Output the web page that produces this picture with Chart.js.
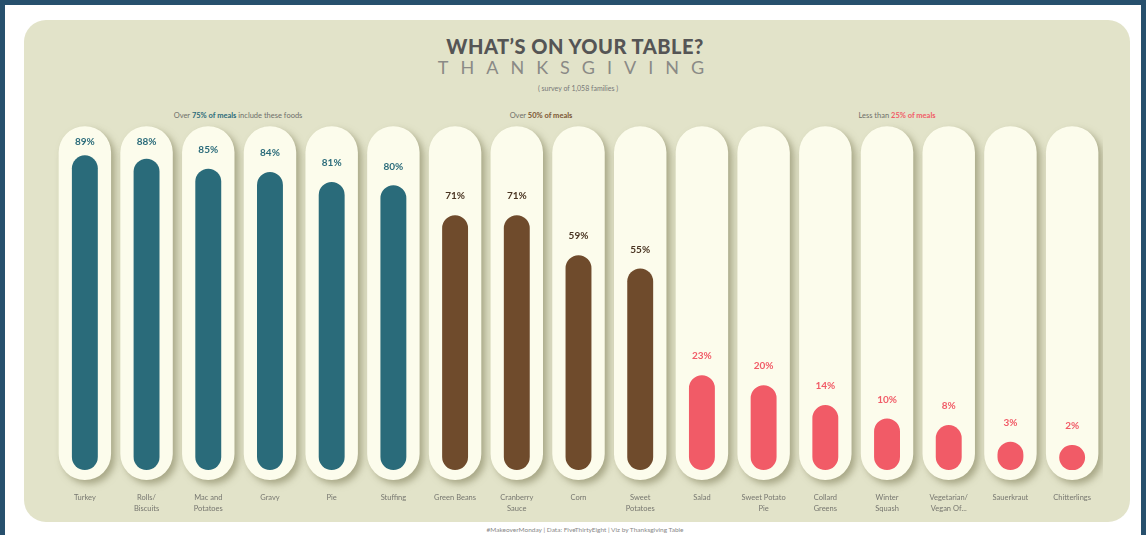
<!DOCTYPE html>
<html>
<head>
<meta charset="utf-8">
<script src="https://cdn.jsdelivr.net/npm/chart.js@4"></script>
<style>
    html, body { margin: 0; padding: 0; }
    body {
        width: 1146px; height: 535px; position: relative; overflow: hidden;
        background: #ffffff; font-family: Lato, "Open Sans", sans-serif;
    }
    .frame {
        position: absolute; left: 0; top: 0; width: 1136px; height: 535px;
        border: 5px solid #27506d; border-bottom: none;
    }
    .card {
        position: absolute; left: 24px; top: 20px; width: 1106px; height: 502px;
        background: #e2e3c9; border-radius: 22px;
    }
    #wrap { position: absolute; left: 0; top: 0; width: 1146px; height: 535px; }
    .txt { position: absolute; white-space: nowrap; transform: translateX(-50%); }
    .title { left: 575px; top: 34px; font-size: 20px; font-weight: 900; color: #555; letter-spacing: 0.5px; }
    .sub { left: 577px; top: 56px; font-size: 18px; color: #8a8a86; letter-spacing: 12px; }
    .note { left: 578px; top: 84px; font-size: 7px; color: #777; }
    .grp { top: 111px; font-size: 7.5px; color: #6f6f6a; }
    .foot { left: 585px; top: 526px; font-size: 6.5px; color: #888; }
</style>
</head>
<body>
<div class="frame"></div>
<div class="card"></div>
<div class="txt title">WHAT’S ON YOUR TABLE?</div>
<div class="txt sub">THANKSGIVING</div>
<div class="txt note">( survey of 1,058 families )</div>
<div class="txt grp" style="left:238px">Over <b style="color:#2a6b7a">75% of meals</b> include these foods</div>
<div class="txt grp" style="left:541px">Over <b style="color:#7a5532">50% of meals</b></div>
<div class="txt grp" style="left:897px">Less than <b style="color:#f15b67">25% of meals</b></div>
<div class="txt foot">#MakeoverMonday | Data: FiveThirtyEight | Viz by Thanksgiving Table</div>
<div id="wrap"><canvas id="tableChart" width="1146" height="535"></canvas></div>

<script>
// 데이터
const dishes = [
    ['Turkey'], ['Rolls/', 'Biscuits'], ['Mac and', 'Potatoes'], ['Gravy'], ['Pie'], ['Stuffing'],
    ['Green Beans'], ['Cranberry', 'Sauce'], ['Corn'], ['Sweet', 'Potatoes'],
    ['Salad'], ['Sweet Potato', 'Pie'], ['Collard', 'Greens'], ['Winter', 'Squash'],
    ['Vegetarian/', 'Vegan Of...'], ['Sauerkraut'], ['Chitterlings']
];
const shares = [89, 88, 85, 84, 81, 80, 71, 71, 59, 55, 23, 20, 14, 10, 8, 3, 2];
const groups = ['top', 'top', 'top', 'top', 'top', 'top', 'mid', 'mid', 'mid', 'mid',
                'low', 'low', 'low', 'low', 'low', 'low', 'low'];

const groupColor = { top: '#2a6b7a', mid: '#6f4b2c', low: '#f15b67' };
const labelColor = { top: '#2a6b7a', mid: '#4a3522', low: '#f15b67' };

// 캡슐 배경 그림자
const shadowPlugin = {
    id: 'capsuleShadow',
    beforeDatasetDraw(chart, args) {
        if (args.index !== 0) return;
        const ctx = chart.ctx;
        ctx.save();
        ctx.shadowColor = 'rgba(120, 118, 80, 0.55)';
        ctx.shadowBlur = 7;
        ctx.shadowOffsetX = 4;
        ctx.shadowOffsetY = 4;
    },
    afterDatasetDraw(chart, args) {
        if (args.index !== 0) return;
        chart.ctx.restore();
    }
};

// 값 라벨 + 카테고리 라벨
const labelPlugin = {
    id: 'valueLabels',
    afterDatasetsDraw(chart) {
        const ctx = chart.ctx;
        const x = chart.scales.x;
        const y = chart.scales.y;
        ctx.save();
        ctx.textAlign = 'center';
        shares.forEach((v, i) => {
            const px = x.getPixelForValue(i);
            const top = y.getPixelForValue(v);
            ctx.font = 'bold 10px Lato, sans-serif';
            ctx.fillStyle = labelColor[groups[i]];
            ctx.textBaseline = 'middle';
            ctx.fillText(v + '%', px, Math.max(top - 19, 142));

            ctx.font = '7.5px Lato, sans-serif';
            ctx.fillStyle = '#777770';
            ctx.textBaseline = 'top';
            dishes[i].forEach((line, k) => {
                ctx.fillText(line, px, 494 + k * 11);
            });
        });
        ctx.restore();
    }
};

const ctx = document.getElementById('tableChart').getContext('2d');
new Chart(ctx, {
    type: 'bar',
    data: {
        labels: dishes.map(d => d.join(' ')),
        datasets: [
            {
                // 배경 캡슐
                data: shares.map(() => [-8.5, 97.7]),
                backgroundColor: '#fcfcec',
                borderRadius: 26,
                borderSkipped: false,
                barPercentage: 0.85,
                categoryPercentage: 1,
                grouped: false,
                order: 2
            },
            {
                data: shares.map(v => [-5.5, v]),
                backgroundColor: groups.map(g => groupColor[g]),
                borderRadius: 13,
                borderSkipped: false,
                barPercentage: 0.42,
                categoryPercentage: 1,
                grouped: false,
                order: 1
            }
        ]
    },
    options: {
        responsive: false,
        animation: false,
        layout: { padding: { left: 54, right: 43, top: 118.7, bottom: 43.3 } },
        plugins: { legend: { display: false }, tooltip: { enabled: false } },
        scales: {
            x: { display: false },
            y: { display: false, min: -12, max: 100 }
        }
    },
    plugins: [shadowPlugin, labelPlugin]
});
</script>
</body>
</html>
